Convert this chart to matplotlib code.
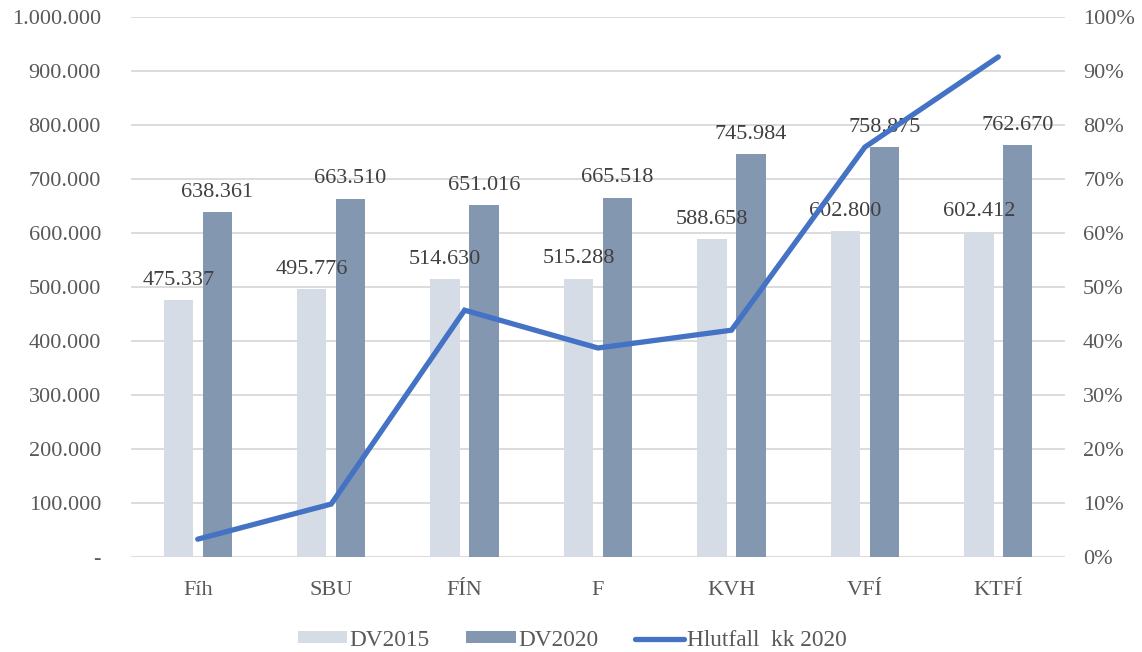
import matplotlib
matplotlib.use("Agg")
import matplotlib.pyplot as plt
import numpy as np
from matplotlib.ticker import FuncFormatter, MultipleLocator

categories = ["Fíh", "SBU", "FÍN", "F", "KVH", "VFÍ", "KTFÍ"]
dv2015 = [475337, 495776, 514630, 515288, 588658, 602800, 602412]
dv2020 = [638361, 663510, 651016, 665518, 745984, 758875, 762670]
hlutfall = [3.3, 9.8, 45.7, 38.7, 42.0, 75.9, 92.6]

plt.rcParams['font.family'] = ['Liberation Serif', 'DejaVu Serif']
FS = 16
c_light = "#D6DCE5"
c_dark = "#8497B0"
c_line = "#4472C4"
c_grid = "#D9D9D9"
c_tick = "#595959"
c_lab = "#404040"

fig = plt.figure(figsize=(11.42, 6.52), dpi=100)
ax = fig.add_axes([0.1147, 0.1457, 0.8179, 0.8283])
x = np.arange(len(categories))
w = 0.22
off = 0.146
b1 = ax.bar(x - off, dv2015, w, color=c_light, zorder=2, label="DV2015")
b2 = ax.bar(x + off, dv2020, w, color=c_dark, zorder=2, label="DV2020")

def fmt_thousands(v):
    return f"{int(round(v)):,}".replace(",", ".")

for bars, vals in ((b1, dv2015), (b2, dv2020)):
    for r, v in zip(bars, vals):
        ax.annotate(fmt_thousands(v), (r.get_x() + r.get_width() / 2, v),
                    xytext=(0, 11), textcoords="offset points",
                    ha="center", va="baseline", fontsize=FS, color=c_lab, zorder=5)

ax.set_xlim(-0.5, len(categories) - 0.5)
ax.set_ylim(0, 1000000)
ax.yaxis.set_major_locator(MultipleLocator(100000))
ax.yaxis.set_major_formatter(FuncFormatter(lambda v, p: "-" if v == 0 else fmt_thousands(v)))
ax.grid(axis="y", color=c_grid, linewidth=1.3, zorder=0)
ax.set_axisbelow(True)
for s in ax.spines.values():
    s.set_visible(False)
ax.set_xticks(x)
ax.set_xticklabels(categories)
ax.tick_params(axis="x", length=0, pad=17.5, labelsize=FS, labelcolor=c_tick)
ax.tick_params(axis="y", length=0, pad=21.6, labelsize=FS, labelcolor=c_tick)

ax2 = ax.twinx()
ax2.set_ylim(0, 100)
ax2.yaxis.set_major_locator(MultipleLocator(10))
ax2.yaxis.set_major_formatter(FuncFormatter(lambda v, p: f"{int(round(v))}%"))
for s in ax2.spines.values():
    s.set_visible(False)
ax2.tick_params(axis="y", length=0, pad=13, labelsize=FS, labelcolor=c_tick)
ln, = ax2.plot(x, hlutfall, color=c_line, linewidth=3.8, solid_capstyle="round",
               solid_joinstyle="miter", label="Hlutfall  kk 2020", zorder=3)

handles = [b1, b2, ln]
labels = ["DV2015", "DV2020", "Hlutfall  kk 2020"]
leg = fig.legend(handles, labels, loc="center", bbox_to_anchor=(0.501, 0.018),
                 ncol=3, frameon=False, fontsize=16.8, handlelength=2.12,
                 handleheight=0.42, handletextpad=0.1, columnspacing=1.57,
                 labelcolor=c_tick)

fig.savefig("out.png", dpi=100)
